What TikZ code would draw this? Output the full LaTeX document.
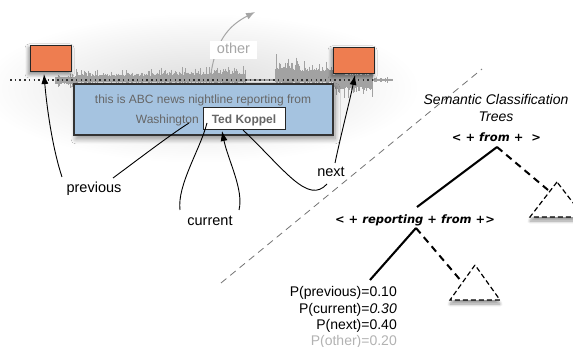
\documentclass[tikz,border=0pt]{standalone}
\usepackage{fontspec}
\setmainfont{Liberation Sans}
\newfontfamily\treefont{DejaVu Sans}
\usetikzlibrary{arrows.meta,shadows,shadows.blur}
\definecolor{boxorange}{HTML}{EE7D50}
\definecolor{boxblue}{HTML}{A5C3E0}
\definecolor{boxtext}{HTML}{666666}
\definecolor{waveg}{HTML}{A2A2A2}
\newcommand\wavepart[4]{%
  \foreach \x in {#1,...,#2}{%
    \pgfmathsetmacro\rr{0.35+0.65*rnd*rnd}%
    \draw[wave] (\x,{80-#3*\rr}) -- (\x,{80+#4*\rr});}}
\begin{document}
\begin{tikzpicture}[x=1pt,y=-1pt,
  lab/.style={font=\fontsize{14.5}{16}\selectfont, inner sep=0pt},
  boxfont/.style={font=\fontsize{12}{14}\selectfont, text=boxtext, inner sep=0pt},
  pointer/.style={-{Latex[length=10pt,width=7pt]}, line width=0.9pt},
  plain/.style={line width=0.9pt},
  wave/.style={draw=waveg, line width=0.8pt},
  orangebox/.style={draw=black!85, line width=1pt, fill=boxorange, minimum width=41pt, minimum height=26pt, inner sep=0pt,
    blur shadow={shadow blur steps=8, shadow xshift=-1pt, shadow yshift=-2.5pt, shadow blur radius=4pt, shadow opacity=50}},
  treeline/.style={line width=2pt},
  treedash/.style={line width=2pt, dash pattern=on 7pt off 5pt},
  leaf/.style={draw, line width=1.2pt, dash pattern=on 5pt off 3pt, fill=white,
    blur shadow={shadow blur steps=8, shadow xshift=0pt, shadow yshift=-4pt, shadow blur radius=3pt}},
  treelab/.style={font=\treefont\bfseries\itshape\fontsize{11.5}{13}\selectfont, inner sep=0pt},
  prob/.style={font=\fontsize{14}{16}\selectfont, anchor=base east, inner sep=0pt}
]
\useasboundingbox (0,0) rectangle (573,347);
% haze
\shade[inner color=black!14, outer color=white] (200,88) ellipse [x radius=220pt, y radius=75pt];
% waveform
\pgfmathsetseed{7}
\wavepart{55}{75}{7}{9}
\wavepart{76}{150}{12}{5}
\wavepart{151}{205}{14}{5}
\wavepart{206}{245}{16}{5}
\wavepart{246}{274}{1.5}{1.5}
\wavepart{275}{300}{28}{6}
\wavepart{301}{332}{25}{6}
\wavepart{333}{372}{13}{20}
\wavepart{373}{392}{3}{3}
% dotted baseline
\draw[black!80, line width=1.3pt, dash pattern=on 1.5pt off 3.2pt] (10,80) -- (373,80);
% other
\draw[black!35, line width=1pt, -{Latex[length=9pt,width=7pt]}] (210,82) .. controls (214,40) and (230,25) .. (255,12);
\node[fill=white, minimum width=47pt, minimum height=18pt, inner sep=0pt] (otherbg) at (233.5,50) {};
\node[lab, text=black!35, anchor=base] (otherlab) at (233.5,54) {other};
% blue box
\node[draw=black!80, line width=1.5pt, fill=boxblue, minimum width=259pt, minimum height=51pt, inner sep=0pt,
  blur shadow={shadow blur steps=8, shadow xshift=2pt, shadow yshift=-4pt, shadow blur radius=5pt}] (blue) at (203.5,109.5) {};
\node[boxfont, anchor=base] (abc) at (203,104) {this is ABC news nightline reporting from};
\node[boxfont, anchor=base east] (wash) at (199,124) {Washington};
\node[draw=black!85, line width=1pt, fill=white, minimum width=82pt, minimum height=22pt, inner sep=0pt] (ted) at (244,119) {};
\node[boxfont, font=\fontsize{12}{14}\selectfont\bfseries, anchor=base] (tedtext) at (244,124) {Ted Koppel};
% orange boxes
\node[orangebox] (lbox) at (50.5,58.5) {};
\node[orangebox] (rbox) at (353.5,60.5) {};
% labels
\node[lab, anchor=base] (prev) at (94,193) {previous};
\node[lab, anchor=base] (curr) at (210,225.5) {current};
\node[lab, anchor=base] (next) at (331,177) {next};
\coordinate (prevL) at (62,177);
\coordinate (prevR) at (113,178);
\coordinate (lboxB) at (44,74);
\coordinate (washE) at (189,123);
\coordinate (currL) at (180,210);
\coordinate (currR) at (239,210);
\coordinate (tedW) at (207,123);
\coordinate (tedB) at (222,131);
\coordinate (tedE) at (243,130);
\coordinate (nextL) at (327,184);
\coordinate (nextT) at (335,163);
\coordinate (rboxB) at (355,75);
\draw[pointer] (prevL) .. controls (53,150) and (47,110) .. (lboxB);
\draw[plain] (prevR) .. controls (140,158) and (170,135) .. (washE);
\draw[plain] (currL) .. controls (177,185) and (200,150) .. (tedW);
\draw[pointer] (currR) .. controls (244,190) and (228,160) .. (tedB);
\draw[plain] (tedE) .. controls (285,170) and (308,205) .. (nextL);
\draw[pointer] (nextT) .. controls (342,130) and (350,100) .. (rboxB);
% separator
\coordinate (sepA) at (221,283);
\coordinate (sepB) at (482,69);
\draw[black!55, line width=0.8pt, dash pattern=on 7pt off 5pt] (sepA) -- (sepB);
% tree
\node[font=\fontsize{14}{16}\selectfont\itshape, anchor=base, inner sep=0pt] (title1) at (496,104.5) {Semantic Classification};
\node[font=\fontsize{14}{16}\selectfont\itshape, anchor=base, inner sep=0pt] (title2) at (496,121.5) {Trees};
\node[treelab] (rootlab) at (496.5,137) {< + from +\ \ >};
\node[treelab] (replab) at (415,220.5) {< + reporting + from +>};
\coordinate (rootapex) at (497,147);
\coordinate (reptop) at (417,207);
\coordinate (repapex) at (416,228);
\coordinate (t1apex) at (557,182);
\coordinate (t1l) at (530,217);
\coordinate (t1r) at (584,217);
\coordinate (t1edge) at (548,190);
\coordinate (t2apex) at (475,265);
\coordinate (t2l) at (450,300);
\coordinate (t2r) at (500,300);
\coordinate (t2edge) at (462,282);
\coordinate (leafend) at (370,280);
\path[leaf] (t1apex) -- (t1l) -- (t1r) -- cycle;
\path[leaf] (t2apex) -- (t2l) -- (t2r) -- cycle;
\begin{scope}[black!25, line width=2pt, shift={(1.5pt,-2pt)}]
\draw (rootapex) -- (reptop);
\draw (repapex) -- (leafend);
\end{scope}
\draw[treeline] (rootapex) -- (reptop);
\draw[treedash] (rootapex) -- (t1edge);
\draw[treeline] (repapex) -- (leafend);
\draw[treedash] (repapex) -- (t2edge);
% probabilities
\node[prob] (p1) at (397,297) {P(previous)=0.10};
\node[prob] (p2) at (397,313.5) {P(current)=\textit{0.30}};
\node[prob] (p3) at (397,330) {P(next)=0.40};
\node[prob, text=black!30] (p4) at (397,345.5) {P(other)=0.20};
\end{tikzpicture}
\end{document}
